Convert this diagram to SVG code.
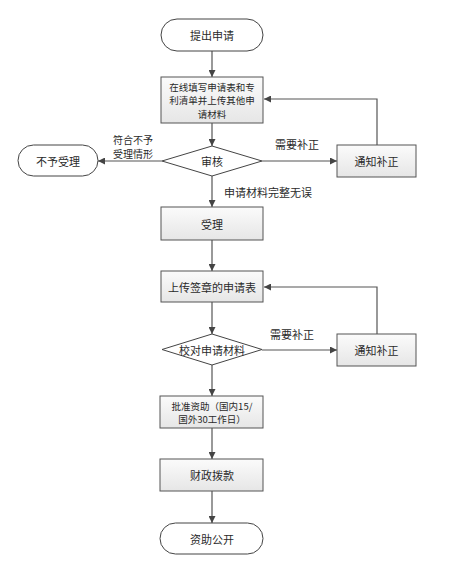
<svg xmlns="http://www.w3.org/2000/svg" width="450" height="566" viewBox="0 0 450 566">
<defs>
<linearGradient id="g" x1="0" y1="0" x2="0" y2="1">
<stop offset="0" stop-color="#fbfbfb"/>
<stop offset="1" stop-color="#e6e6e6"/>
</linearGradient>
<marker id="a" viewBox="0 0 10 10" refX="10" refY="5" markerWidth="7" markerHeight="7" markerUnits="userSpaceOnUse" orient="auto">
<path d="M0,0 L10,5 L0,10 z" fill="#444"/>
</marker>
</defs>
<style>
.box{fill:url(#g);stroke:#555;stroke-width:1}
.term{fill:#fff;stroke:#444;stroke-width:1}
.dia{fill:#fff;stroke:#444;stroke-width:1}
.c{fill:none;stroke:#555;stroke-width:1.2;marker-end:url(#a)}
text{font-family:"Noto Sans CJK SC","Noto Sans",sans-serif;font-size:11px;fill:#2a2a2a;text-anchor:middle;dominant-baseline:central}
.s{font-size:9.5px}
.m{font-size:10px}
.l{text-anchor:start}
</style>
<rect width="450" height="566" fill="#fff"/>
<g id="connectors">
<path class="c" d="M212,51 V77"/>
<path class="c" d="M212,123 V146"/>
<path class="c" d="M162,161 H98"/>
<path class="c" d="M262,161 H337"/>
<path class="c" d="M377,145 V99 H264"/>
<path class="c" d="M212,176 V207"/>
<path class="c" d="M212,240 V271"/>
<path class="c" d="M212,302 V334"/>
<path class="c" d="M262,350 H337"/>
<path class="c" d="M377,334 V287 H264"/>
<path class="c" d="M212,365 V396"/>
<path class="c" d="M212,428 V459"/>
<path class="c" d="M212,491 V523"/>
<text class="m" x="133" y="139">符合不予</text>
<text class="m" x="133" y="153.5">受理情形</text>
<text x="297" y="144">需要补正</text>
<text class="l" x="224" y="192">申请材料完整无误</text>
<text x="292" y="334">需要补正</text>
</g>
<g id="start">
<rect class="term" x="161" y="19" width="102" height="32" rx="16"/>
<text x="212" y="35">提出申请</text>
</g>
<g id="fill">
<rect class="box" x="161" y="77" width="102" height="46"/>
<text class="s" x="212" y="86.5">在线填写申请表和专</text>
<text class="s" x="212" y="100">利清单并上传其他申</text>
<text class="s" x="212" y="113.5">请材料</text>
</g>
<g id="review">
<polygon class="dia" points="212,146 262,161 212,176 162,161"/>
<text x="212" y="161">审核</text>
</g>
<g id="reject">
<rect class="term" x="18" y="145" width="80" height="31" rx="15.5"/>
<text x="58" y="160.5">不予受理</text>
</g>
<g id="notify1">
<rect class="box" x="337" y="145" width="79" height="32"/>
<text x="376.5" y="161">通知补正</text>
</g>
<g id="accept">
<rect class="box" x="161" y="207" width="102" height="33"/>
<text x="212" y="223.5">受理</text>
</g>
<g id="upload">
<rect class="box" x="161" y="271" width="102" height="31"/>
<text x="212" y="287">上传签章的申请表</text>
</g>
<g id="check">
<polygon class="dia" points="212,334 262,349.5 212,365 162,349.5"/>
<text x="212" y="349.5">校对申请材料</text>
</g>
<g id="notify2">
<rect class="box" x="337" y="334" width="79" height="32"/>
<text x="376.5" y="350">通知补正</text>
</g>
<g id="approve">
<rect class="box" x="160" y="396" width="103" height="32"/>
<text class="s" x="212" y="405.5">批准资助（国内15/</text>
<text class="s" x="212" y="419">国外30工作日）</text>
</g>
<g id="fund">
<rect class="box" x="160" y="459" width="103" height="32"/>
<text x="212" y="475">财政拨款</text>
</g>
<g id="end">
<rect class="term" x="160" y="523" width="103" height="31" rx="15.5"/>
<text x="212" y="538.5">资助公开</text>
</g>
</svg>
